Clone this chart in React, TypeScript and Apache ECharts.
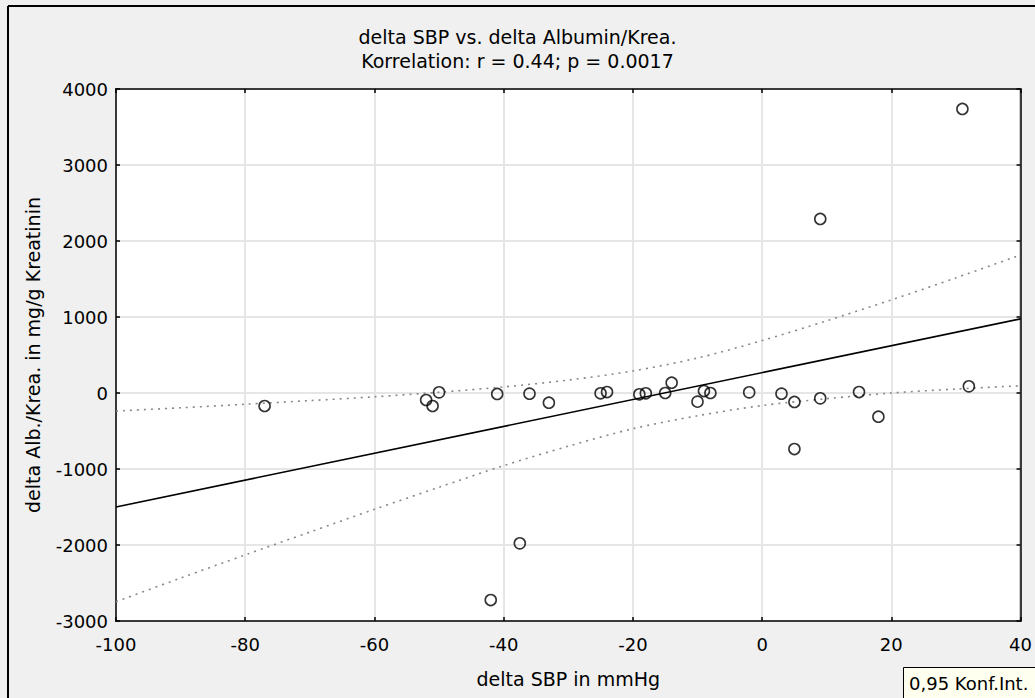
import React, { useEffect, useRef } from "react";
import * as echarts from "echarts";

const TITLE_1 = "delta SBP vs. delta Albumin/Krea.";
const TITLE_2 = "Korrelation: r = 0.44; p = 0.0017";
const X_NAME = "delta SBP in mmHg";
const Y_NAME = "delta Alb./Krea. in mg/g Kreatinin";
const LEGEND_TEXT = "0,95 Konf.Int.";

const X_MIN = -100;
const X_MAX = 40;
const X_STEP = 20;
const Y_MIN = -3000;
const Y_MAX = 4000;
const Y_STEP = 1000;

// observed points
const sbpDelta = [-77, -52, -51, -50, -42, -41, -37.5, -36, -33, -25, -24, -19, -18, -15, -14, -10, -9, -8, -2, 3, 5, 5, 9, 9, 15, 18, 31, 32];
const albDelta = [-171, -92, -171, 9, -2724, -13, -1978, -9, -128, -4, 13, -17, -4, 0, 135, -114, 26, 0, 9, -9, -118, -737, -70, 2290, 13, -312, 3737, 88];

// regression line end points
const fitX = [-100, 40];
const fitY = [-1500, 975];

// 0.95 confidence band
const bandX = [-100, -90, -80, -70, -60, -50, -40, -30, -20, -10, 0, 10, 20, 30, 40];
const upperBand = [-237, -195, -148, -100, -50, 10, 80, 170, 290, 460, 690, 950, 1225, 1515, 1816];
const lowerBand = [-2746, -2435, -2130, -1830, -1530, -1240, -955, -700, -470, -300, -165, -75, 0, 52, 96];

const FONT = "DejaVu Sans";

export default function App() {
  const ref = useRef<HTMLDivElement>(null);

  useEffect(() => {
    document.body.style.margin = "0";
    if (!ref.current) return;
    const chart = echarts.init(ref.current, null, { renderer: "svg" });

    const points = sbpDelta.map((x, i) => [x, albDelta[i]]);
    const fit = fitX.map((x, i) => [x, fitY[i]]);
    const upper = bandX.map((x, i) => [x, upperBand[i]]);
    const lower = bandX.map((x, i) => [x, lowerBand[i]]);

    const tickStyle = { color: "#000", fontFamily: FONT, fontSize: 18 };
    const textStyle = { color: "#000", fontFamily: FONT, fontSize: 19, fontWeight: "normal" };
    const bandStyle = { color: "#888", width: 1.6, type: [2, 5] as number[] };
    const axisLine = { show: true, onZero: false, lineStyle: { color: "#000", width: 1.5 } };
    const axisTick = { show: true, inside: true, length: 4, lineStyle: { color: "#000", width: 1.5 } };

    chart.setOption({
      animation: false,
      backgroundColor: "#f0f0f0",
      textStyle: { fontFamily: FONT },
      title: [
        { text: TITLE_1, left: "center", top: 22, textStyle },
        { text: TITLE_2, left: "center", top: 46, textStyle },
      ],
      grid: {
        left: 116,
        right: 14,
        top: 89,
        bottom: 77,
        show: true,
        backgroundColor: "#fff",
        borderColor: "#000",
        borderWidth: 1.5,
        containLabel: false,
      },
      xAxis: [
        {
          type: "value",
          min: X_MIN,
          max: X_MAX,
          interval: X_STEP,
          position: "bottom",
          name: X_NAME,
          nameLocation: "middle",
          nameGap: 48,
          nameTextStyle: textStyle,
          axisLine,
          axisTick,
          axisLabel: { ...tickStyle, margin: 14, formatter: (v: number) => String(v) },
          splitLine: { show: true, lineStyle: { color: "#e6e6e6", width: 2 } },
        },
        {
          type: "value",
          min: X_MIN,
          max: X_MAX,
          interval: X_STEP,
          position: "top",
          axisLine,
          axisTick,
          axisLabel: { show: false },
          splitLine: { show: false },
        },
      ],
      yAxis: [
        {
          type: "value",
          min: Y_MIN,
          max: Y_MAX,
          interval: Y_STEP,
          position: "left",
          name: Y_NAME,
          nameLocation: "middle",
          nameGap: 74,
          nameRotate: 90,
          nameTextStyle: textStyle,
          axisLine,
          axisTick,
          axisLabel: { ...tickStyle, margin: 8, formatter: (v: number) => String(v) },
          splitLine: { show: true, lineStyle: { color: "#e6e6e6", width: 2 } },
        },
        {
          type: "value",
          min: Y_MIN,
          max: Y_MAX,
          interval: Y_STEP,
          position: "right",
          axisLine,
          axisTick,
          axisLabel: { show: false },
          splitLine: { show: false },
        },
      ],
      series: [
        {
          type: "line",
          data: upper,
          smooth: 0.3,
          showSymbol: false,
          lineStyle: bandStyle,
          z: 2,
        },
        {
          type: "line",
          data: lower,
          smooth: 0.3,
          showSymbol: false,
          lineStyle: bandStyle,
          z: 2,
        },
        {
          type: "line",
          data: fit,
          showSymbol: false,
          lineStyle: { color: "#000", width: 1.6 },
          z: 3,
        },
        {
          type: "scatter",
          data: points,
          symbol: "circle",
          symbolSize: 11,
          itemStyle: { color: "rgba(255,255,255,0)", borderColor: "#000", borderWidth: 1.6 },
          z: 4,
        },
      ],
      graphic: [
        { type: "line", shape: { x1: 8, y1: 6, x2: 1035, y2: 6 }, style: { stroke: "#000", lineWidth: 2 } },
        { type: "line", shape: { x1: 8, y1: 6, x2: 8, y2: 698 }, style: { stroke: "#000", lineWidth: 2 } },
        {
          type: "rect",
          shape: { x: 903.5, y: 667.5, width: 140, height: 40 },
          style: { fill: "#fffff0", stroke: "#000", lineWidth: 1 },
        },
        {
          type: "text",
          x: 909,
          y: 683,
          style: { text: LEGEND_TEXT, fill: "#000", font: `18px "${FONT}"`, verticalAlign: "middle" },
        },
      ],
    });

    return () => chart.dispose();
  }, []);

  return <div ref={ref} style={{ width: 1035, height: 698 }} />;
}
